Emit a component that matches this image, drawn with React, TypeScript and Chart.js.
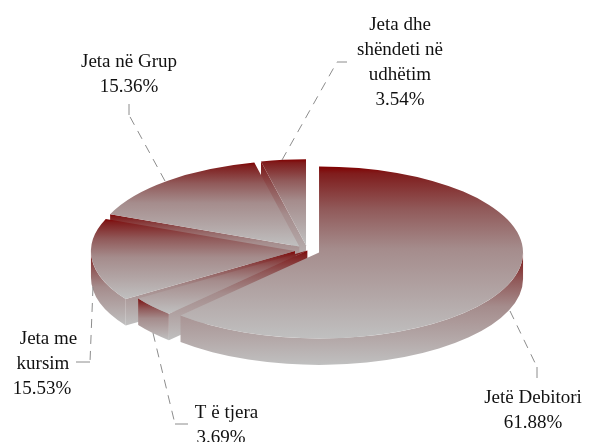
import React, { useEffect, useRef } from "react";
import { Chart, registerables } from "chart.js";

Chart.register(...registerables);

const categories = ["Jetë Debitori", "T ë tjera", "Jeta me kursim", "Jeta në Grup", "Jeta dhe shëndeti në udhëtim"];
const shares = [61.88, 3.69, 15.53, 15.36, 3.54];
const explode = [12.5, 0, 12.5, 12.5, 12.5];
const drawOrder = [4, 3, 2, 1, 0];

const labelLines = [
  ["Jetë Debitori"],
  ["T ë tjera"],
  ["Jeta me", "kursim"],
  ["Jeta në Grup"],
  ["Jeta dhe", "shëndeti në", "udhëtim"],
];
const labelX = [
  [533, 533],
  [226.5, 221],
  [48.5, 43, 42],
  [129, 129],
  [400, 400, 400, 400],
];
const labelY = [
  [398.5, 423.5],
  [413.5, 438],
  [339.5, 364.5, 389.5],
  [62, 87],
  [25.5, 50.5, 75.5, 100],
];
const leaders = [
  [[510, 311], [537, 367], [537, 378]],
  [[153, 333], [175, 424], [188, 424]],
  [[93, 287], [90, 362], [76, 362]],
  [[165, 181], [129, 115], [129, 104]],
  [[282, 160], [337, 62], [347, 62]],
];

const gradientStops: [number, string][] = [
  [0, "#800000"],
  [0.04, "#801c1c"],
  [0.08, "#822828"],
  [0.25, "#915a5a"],
  [0.48, "#a58c8c"],
  [0.74, "#b2a5a5"],
  [1, "#c0c0c0"],
];
const SQUASH = 86 / 204;
const DEPTH = 26.5;

function yExtent(ay: number, ry: number, start: number, end: number) {
  const ys = [ay, ay + ry * Math.sin(start), ay + ry * Math.sin(end)];
  const eps = 1e-4;
  for (const a of [-Math.PI / 2, Math.PI / 2, (3 * Math.PI) / 2]) {
    if (a >= start - eps && a <= end + eps) ys.push(ay + ry * Math.sin(a));
  }
  return [Math.min(...ys), Math.max(...ys)];
}

function grad(ctx: CanvasRenderingContext2D, y0: number, y1: number) {
  const g = ctx.createLinearGradient(0, y0, 0, y1);
  gradientStops.forEach(([o, c]) => g.addColorStop(o, c));
  return g;
}

const pie3d = {
  id: "pie3d",
  beforeDatasetsDraw(chart: any) {
    const ctx: CanvasRenderingContext2D = chart.ctx;
    const arcs = chart.getDatasetMeta(0).data;
    for (const i of drawOrder) {
      const el = arcs[i];
      const R = el.outerRadius;
      const ry = R * SQUASH;
      const mid = (el.startAngle + el.endAngle) / 2;
      const ax = el.x + Math.cos(mid) * explode[i];
      const ay = el.y + Math.sin(mid) * explode[i] * SQUASH;
      const [top, bottom] = yExtent(ay, ry, el.startAngle, el.endAngle);

      // radial wall on the leading edge
      const tx = ax + R * Math.cos(el.startAngle);
      const ty = ay + ry * Math.sin(el.startAngle);
      ctx.fillStyle = grad(ctx, Math.min(ay, ty), Math.max(ay, ty) + DEPTH);
      ctx.beginPath();
      ctx.moveTo(ax, ay);
      ctx.lineTo(tx, ty);
      ctx.lineTo(tx, ty + DEPTH);
      ctx.lineTo(ax, ay + DEPTH);
      ctx.closePath();
      ctx.fill();

      // curved outer wall, front half only
      const a0 = Math.max(el.startAngle, 0);
      const a1 = Math.min(el.endAngle, Math.PI);
      if (a1 > a0) {
        const [wTop, wBottom] = yExtent(ay, ry, a0, a1);
        const wallTop = a0 <= 1e-6 || a1 >= Math.PI - 1e-6 ? wTop : Math.min(ay + ry * Math.sin(a0), ay + ry * Math.sin(a1));
        ctx.fillStyle = grad(ctx, wallTop, wBottom + DEPTH);
        ctx.beginPath();
        ctx.ellipse(ax, ay, R, ry, 0, a0, a1);
        ctx.ellipse(ax, ay + DEPTH, R, ry, 0, a1, a0, true);
        ctx.closePath();
        ctx.fill();
      }

      // top face, drawn by the arc element itself
      const yToEl = (y: number) => el.y + (y - ay) / SQUASH;
      el.options = { ...el.options, backgroundColor: grad(ctx, yToEl(top), yToEl(bottom)) };
      ctx.save();
      ctx.translate(ax, ay);
      ctx.scale(1, SQUASH);
      ctx.translate(-el.x, -el.y);
      el.draw(ctx);
      ctx.restore();
    }
    return false;
  },
  afterDraw(chart: any) {
    const ctx: CanvasRenderingContext2D = chart.ctx;
    ctx.save();
    ctx.strokeStyle = "#8c8c8c";
    ctx.lineWidth = 1;
    leaders.forEach((pts) => {
      ctx.setLineDash([9, 7]);
      ctx.beginPath();
      ctx.moveTo(pts[0][0], pts[0][1]);
      ctx.lineTo(pts[1][0], pts[1][1]);
      ctx.stroke();
      ctx.setLineDash([]);
      ctx.beginPath();
      ctx.moveTo(pts[1][0], pts[1][1]);
      ctx.lineTo(pts[2][0], pts[2][1]);
      ctx.stroke();
    });
    ctx.fillStyle = "#111";
    ctx.font = '19px "Liberation Serif"';
    ctx.textAlign = "center";
    ctx.textBaseline = "middle";
    categories.forEach((_, i) => {
      const lines = [...labelLines[i], shares[i].toFixed(2) + "%"];
      lines.forEach((t, j) => ctx.fillText(t, labelX[i][j], labelY[i][j]));
    });
    ctx.restore();
  },
};

export default function App() {
  const ref = useRef<HTMLCanvasElement>(null);
  useEffect(() => {
    const chart = new Chart(ref.current!, {
      type: "pie",
      data: {
        labels: categories,
        datasets: [{ data: shares, radius: 204, borderWidth: 0, backgroundColor: "#800000" } as any],
      },
      options: {
        responsive: false,
        animation: false,
        events: [],
        layout: { padding: { left: 21.8, top: 59 } },
        plugins: { legend: { display: false }, tooltip: { enabled: false } },
      },
      plugins: [pie3d as any],
    });
    return () => chart.destroy();
  }, []);
  return (
    <div style={{ position: "fixed", left: 0, top: 0, width: 593, height: 442, overflow: "hidden", background: "#fff" }}>
      <canvas ref={ref} width={593} height={442} style={{ display: "block" }} />
    </div>
  );
}
